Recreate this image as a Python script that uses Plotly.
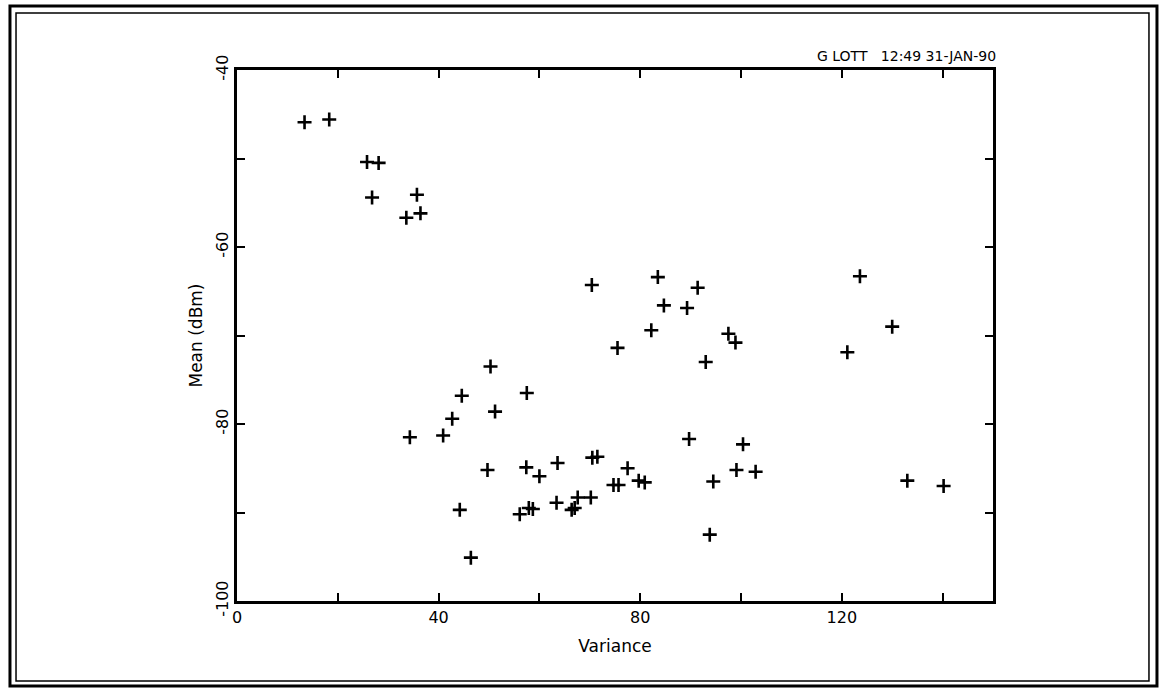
import plotly.graph_objects as go

variance = [13.4, 18.3, 25.8, 28.1, 26.8, 35.7, 33.6, 36.4,
            50.3, 44.6, 57.5, 51.2, 42.7, 34.3, 40.9, 70.4, 83.5, 91.4, 84.7, 89.3,
            82.2, 75.5, 93.0, 97.5, 98.9, 123.6, 130.0, 121.1, 89.7, 100.4,
            49.7, 57.4, 60.0, 63.6, 70.5, 71.5, 77.5, 74.7, 75.7, 79.7, 80.9, 94.5,
            99.1, 102.9, 133.0, 140.2,
            44.2, 56.1, 57.9, 58.7, 63.4, 66.4, 67.0, 67.6, 70.2, 46.4, 93.8]
mean_dbm = [-45.9, -45.6, -50.4, -50.5, -54.4, -54.1, -56.7, -56.2,
            -73.5, -76.8, -76.5, -78.6, -79.4, -81.5, -81.3, -64.3, -63.4, -64.6, -66.6, -66.9,
            -69.4, -71.4, -73.0, -69.8, -70.8, -63.3, -69.0, -71.9, -81.7, -82.3,
            -85.2, -84.9, -85.9, -84.4, -83.8, -83.7, -85.0, -86.9, -86.9, -86.4, -86.6, -86.5,
            -85.2, -85.4, -86.4, -87.0,
            -89.7, -90.2, -89.5, -89.6, -88.9, -89.7, -89.5, -88.3, -88.3, -95.1, -92.5]

x_tickvals = [0, 20, 40, 60, 80, 100, 120, 140]
x_ticktext = ["0", "", "40", "", "80", "", "120", ""]
y_tickvals = [-100, -90, -80, -70, -60, -50, -40]
y_ticktext = ["-100", "", "-80", "", "-60", "", "-40"]
stamp = "G LOTT   12:49 31-JAN-90"

FONT = "DejaVu Sans"

fig = go.Figure()
fig.add_trace(go.Scatter(
    x=variance, y=mean_dbm, mode="markers",
    marker=dict(symbol="cross-thin", size=10, color="black",
                line=dict(width=2.6, color="black")),
    showlegend=False, hoverinfo="x+y",
))

axis_common = dict(
    showline=True, linewidth=3, linecolor="black", mirror="ticks",
    ticks="inside", ticklen=8, tickwidth=2, tickcolor="black",
    showgrid=False, zeroline=False,
    tickfont=dict(family=FONT, size=16, color="black"),
)

fig.update_xaxes(range=[0, 150], tickmode="array", tickvals=x_tickvals,
                 ticktext=x_ticktext,
                 title=dict(text="Variance", standoff=14,
                            font=dict(family=FONT, size=17, color="black")),
                 **axis_common)
fig.update_yaxes(range=[-100, -40], tickmode="array", tickvals=y_tickvals,
                 ticktext=y_ticktext, tickangle=-90,
                 title=dict(text="Mean (dBm)", standoff=6,
                            font=dict(family=FONT, size=17, color="black")),
                 **axis_common)

# double outer frame
fig.add_shape(type="rect", xref="paper", yref="paper",
              x0=-0.3003, x1=1.2169, y0=-0.1601, y1=1.1205,
              line=dict(color="black", width=3))
fig.add_shape(type="rect", xref="paper", yref="paper",
              x0=-0.2923, x1=1.2063, y0=-0.1507, y1=1.1073,
              line=dict(color="black", width=1.5))

fig.add_annotation(text=stamp, xref="paper", yref="paper", x=1.006, y=1.008,
                   xanchor="right", yanchor="bottom", showarrow=False,
                   font=dict(family=FONT, size=14, color="black"))

fig.update_layout(
    width=1159, height=688,
    margin=dict(l=237, r=166, t=70, b=87),
    paper_bgcolor="white", plot_bgcolor="white",
    font=dict(family=FONT, color="black"),
)

fig.write_html("out.html",
               config={"displayModeBar": False},
               post_script="document.body.style.margin='0px';"
                           "document.body.style.overflow='hidden';")
